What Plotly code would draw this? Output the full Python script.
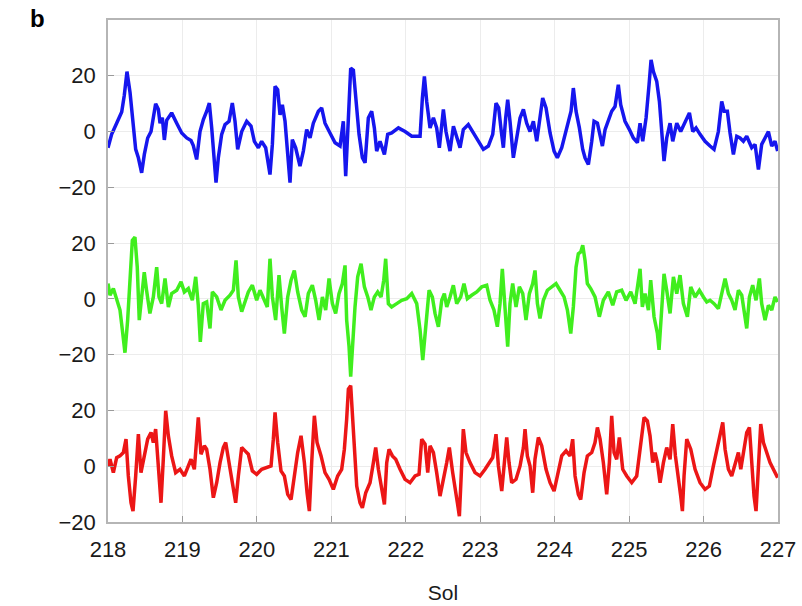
import plotly.graph_objects as go

# Three stacked residual traces over sols 218-227 (values in native units,
# each trace shifted vertically by its own offset so they share one axis).
blue_sol = [218.0, 218.049, 218.116, 218.184, 218.219, 218.255, 218.296, 218.34, 218.372, 218.408,
            218.452, 218.488, 218.533, 218.578, 218.609, 218.64, 218.676, 218.699, 218.73, 218.757,
            218.788, 218.855, 218.923, 218.99, 219.057, 219.115, 219.146, 219.191, 219.236, 219.281,
            219.326, 219.361, 219.393, 219.429, 219.451, 219.482, 219.527, 219.572, 219.626, 219.67,
            219.706, 219.742, 219.796, 219.863, 219.921, 219.966, 220.02, 220.064, 220.118, 220.176,
            220.208, 220.244, 220.279, 220.311, 220.342, 220.378, 220.414, 220.445, 220.476, 220.521,
            220.579, 220.624, 220.669, 220.714, 220.758, 220.826, 220.87, 220.915, 220.982, 221.05,
            221.117, 221.161, 221.193, 221.229, 221.26, 221.296, 221.327, 221.372, 221.417, 221.453,
            221.497, 221.542, 221.578, 221.609, 221.654, 221.713, 221.757, 221.811, 221.901, 221.99,
            222.08, 222.192, 222.223, 222.25, 222.281, 222.326, 222.371, 222.415, 222.451,
            222.505, 222.54, 222.594, 222.64, 222.684, 222.729, 222.773, 222.84, 222.908, 222.975,
            223.042, 223.109, 223.168, 223.212, 223.248, 223.28, 223.311, 223.342, 223.369, 223.4,
            223.445, 223.49, 223.535, 223.58, 223.624, 223.669, 223.714, 223.759, 223.803, 223.839,
            223.884, 223.938, 223.992, 224.036, 224.095, 224.162, 224.22, 224.251, 224.287, 224.332,
            224.377, 224.408, 224.453, 224.498, 224.529, 224.574, 224.61, 224.641, 224.677, 224.721,
            224.766, 224.811, 224.855, 224.887, 224.945, 225.004, 225.057, 225.111, 225.147, 225.183,
            225.228, 225.268, 225.295, 225.326, 225.371, 225.407, 225.438, 225.469, 225.505, 225.55,
            225.586, 225.64, 225.693, 225.751, 225.81, 225.855, 225.899, 225.953, 226.02, 226.087,
            226.141, 226.199, 226.244, 226.276, 226.32, 226.356, 226.401, 226.446, 226.49, 226.535,
            226.58, 226.647, 226.692, 226.737, 226.781, 226.826, 226.871, 226.916, 226.96, 226.995]
blue_val = [-5.8, -1.0, 3.0, 7.0, 13.0, 21.5, 14.0, 1.0, -6.4, -9.4,
            -14.8, -8.2, -2.3, 0.0, 5.0, 10.0, 8.0, 3.0, 5.0, -3.0,
            4.0, 6.7, 3.0, -0.5, -2.3, -3.2, -5.0, -10.0, 0.0, 4.3,
            7.3, 10.2, 1.3, -9.4, -18.3, -9.4, -1.0, 2.5, 3.7, 10.2,
            3.7, -6.4, 0.0, 3.7, 2.0, -3.5, -5.8, -3.5, -5.8, -15.4,
            -4.6, 16.2, 15.0, 6.0, 9.6, 3.7, -7.0, -18.3, -2.9, -5.8,
            -12.4, -7.0, 0.7, -2.3, 3.0, 7.3, 8.5, 3.0, -0.5, -4.0,
            -5.2, 3.7, -16.0, 4.9, 22.7, 22.0, 13.2, -1.0, -9.4, -11.2,
            4.9, 7.3, 1.3, -7.0, -3.5, -8.2, -1.0, -0.5, 1.3, 0.0,
            -1.7, -1.7, 12.0, 19.8, 10.8, 1.3, 4.9, 1.3, -5.8,
            7.9, 0.0, -7.0, 1.9, -2.3, -5.8, 0.7, 2.5, -0.5, -3.5,
            -6.4, -5.2, -1.0, 10.2, 8.5, 0.7, -5.8, 4.9, 11.4, 3.7,
            -9.4, -2.3, 4.9, 7.9, 3.0, 0.0, 3.7, -3.5, 6.0, 12.0,
            8.5, -0.5, -7.0, -9.4, -5.8, 1.3, 7.3, 15.6, 7.3, 1.3,
            -6.4, -9.4, -11.8, -3.5, 3.7, 3.0, -2.3, -5.2, 0.7, 3.7,
            7.3, 9.0, 16.8, 9.6, 3.7, 0.7, -2.3, -4.0, 3.0, -3.5,
            4.9, 16.8, 25.7, 21.5, 18.0, 10.8, -2.3, -10.6, -2.3, 3.0,
            -3.5, 3.0, 0.0, 3.7, 6.7, 0.0, 1.3, -1.0, -3.5, -5.2,
            -6.4, 0.0, 10.8, 7.3, 7.3, -0.5, -8.2, -1.7, -2.3, -3.5,
            -1.7, -5.8, -4.6, -13.6, -4.6, -2.3, 0.0, -5.2, -3.5, -7.0]

green_sol = [218.0, 218.027, 218.072, 218.116, 218.161, 218.193, 218.228, 218.264, 218.296, 218.327,
             218.362, 218.393, 218.42, 218.452, 218.487, 218.518, 218.563, 218.609, 218.654, 218.685,
             218.721, 218.766, 218.811, 218.855, 218.923, 218.981, 219.026, 219.079, 219.133, 219.178,
             219.213, 219.24, 219.28, 219.325, 219.37, 219.402, 219.46, 219.518, 219.572, 219.639,
             219.684, 219.72, 219.751, 219.796, 219.841, 219.885, 219.939, 219.997, 220.042, 220.096,
             220.14, 220.176, 220.208, 220.252, 220.297, 220.333, 220.369, 220.414, 220.459, 220.503,
             220.548, 220.602, 220.647, 220.691, 220.745, 220.79, 220.835, 220.88, 220.924, 220.969,
             221.014, 221.058, 221.103, 221.148, 221.184, 221.206, 221.238, 221.26, 221.282, 221.318,
             221.354, 221.399, 221.444, 221.489, 221.533, 221.578, 221.623, 221.668, 221.704, 221.73,
             221.766, 221.81, 221.878, 221.945, 222.013, 222.08, 222.147, 222.192, 222.228, 222.268,
             222.313, 222.357, 222.393, 222.438, 222.483, 222.518,
             222.55, 222.594, 222.639, 222.684, 222.738, 222.782, 222.827, 222.885, 222.953, 223.02,
             223.087, 223.132, 223.185, 223.23, 223.266, 223.297, 223.333, 223.369, 223.4, 223.436,
             223.481, 223.526, 223.571, 223.615, 223.66, 223.705, 223.736, 223.768, 223.803, 223.848,
             223.902, 223.96, 224.018, 224.072, 224.126, 224.171, 224.216, 224.251, 224.287, 224.318,
             224.35, 224.377, 224.408, 224.439, 224.484, 224.542, 224.6, 224.654, 224.721, 224.78,
             224.833, 224.9, 224.959, 225.022, 225.08, 225.125, 225.147, 225.178, 225.214, 225.259,
             225.29, 225.335, 225.38, 225.402, 225.429, 225.469, 225.505, 225.55, 225.595, 225.64,
             225.684, 225.729, 225.783, 225.828, 225.886, 225.944, 225.998, 226.043, 226.087, 226.141,
             226.199, 226.244, 226.289, 226.334, 226.378, 226.423, 226.468, 226.513, 226.558, 226.58,
             226.616, 226.66, 226.705, 226.75, 226.781, 226.826, 226.871, 226.916, 226.96, 226.995]
green_val = [5.5, 1.3, 3.7, -0.5, -4.0, -11.2, -19.3, -7.6, 10.2, 21.0,
             22.1, 11.4, -7.6, 0.7, 9.6, 3.1, -5.2, 0.7, 11.4, 0.7,
             -1.7, 7.3, -2.9, 1.9, 3.1, 6.1, 2.5, 3.7, -0.5, 7.9,
             -2.3, -15.4, -1.7, -1.1, -10.6, 2.5, 0.7, -4.0, -0.5, 1.3,
             3.1, 13.8, 0.7, -4.6, -1.1, 2.5, 4.9, -0.5, 3.1, 0.1,
             -2.9, 14.4, 0.7, -7.6, 8.5, -2.9, -12.4, 0.7, 6.7, 10.2,
             2.5, -4.0, -6.4, 1.9, 4.9, -0.5, -7.6, 0.7, -4.0, 7.3,
             -1.7, -5.2, 1.9, 5.5, 12.0, -7.6, -17.1, -27.9, -17.1, -2.9,
             7.9, 12.6, 4.3, 0.7, -4.0, 0.7, 2.5, 0.7, 6.7, 14.4,
             -1.7, -2.9, -1.7, -0.5, 0.1, 1.9, -1.7, -11.2, -21.9, -8.8,
             3.1, 0.7, -5.2, -10.0, -0.5, 1.9,
             -2.9, 0.7, 4.9, -1.7, 0.7, 5.5, 0.1, 1.3, 2.5, 4.3,
             4.9, -0.5, -4.0, -10.0, -1.7, 10.8, -4.0, -17.1, -1.7, 5.5,
             -2.9, 4.3, 1.9, -7.6, 1.9, 5.5, 10.2, -1.7, -7.0, -0.5,
             3.1, 4.3, 5.5, 3.1, 0.7, -4.0, -12.4, -2.9, 11.4, 16.2,
             16.8, 19.2, 13.8, 5.5, 3.7, 0.7, -6.4, -0.5, 2.5, -2.3,
             2.5, 3.1, -0.5, 2.5, -1.7, 6.7, 10.8, -2.9, 1.9, -4.0,
             6.7, -6.4, -12.4, -18.3, -5.2, 9.0, 3.1, -5.2, 7.9, 1.9,
             8.5, -1.7, -6.4, 4.3, 0.7, 3.1, 0.7, -1.1, -0.5, -1.7,
             -3.5, 2.5, 7.3, 1.9, -0.5, -4.0, 3.1, 1.3, -7.6, -10.6,
             0.7, 4.9, -0.5, 7.3, -1.7, -7.6, -2.3, -4.0, 0.7, -1.1]

red_sol = [218.0, 218.027, 218.072, 218.116, 218.161, 218.206, 218.242, 218.273, 218.309, 218.336,
           218.372, 218.408, 218.443, 218.488, 218.533, 218.578, 218.609, 218.64, 218.676, 218.712,
           218.743, 218.775, 218.811, 218.855, 218.909, 218.967, 219.026, 219.079, 219.115, 219.16,
           219.191, 219.213, 219.249, 219.294, 219.325, 219.37, 219.415, 219.46, 219.505, 219.549,
           219.581, 219.626, 219.67, 219.715, 219.751, 219.796, 219.841, 219.885, 219.939, 219.997,
           220.064, 220.131, 220.19, 220.221, 220.244, 220.279, 220.324, 220.369, 220.414, 220.459,
           220.503, 220.548, 220.593, 220.638, 220.674, 220.705, 220.736, 220.772, 220.808, 220.862,
           220.915, 220.969, 221.027, 221.085, 221.139, 221.175, 221.206, 221.229, 221.26, 221.282,
           221.309, 221.341, 221.385, 221.417, 221.462, 221.52, 221.565, 221.596, 221.632, 221.668,
           221.713, 221.744, 221.775, 221.82, 221.865, 221.923, 221.99, 222.057, 222.125, 222.178,
           222.214, 222.259, 222.295, 222.326, 222.371, 222.415, 222.46,
           222.55, 222.585, 222.63, 222.662, 222.693, 222.72, 222.742, 222.773, 222.809, 222.863,
           222.93, 222.997, 223.065, 223.123, 223.168, 223.212, 223.244, 223.289, 223.324, 223.356,
           223.387, 223.423, 223.481, 223.535, 223.58, 223.602, 223.633, 223.669, 223.705, 223.736,
           223.781, 223.826, 223.884, 223.938, 223.992, 224.05, 224.095, 224.153, 224.206, 224.242,
           224.274, 224.318, 224.35, 224.395, 224.439, 224.498, 224.542, 224.574, 224.61, 224.654,
           224.699, 224.735, 224.766, 224.798, 224.833, 224.869, 224.914, 224.968, 225.035, 225.102,
           225.138, 225.169, 225.201, 225.245, 225.281, 225.317, 225.349, 225.38, 225.416, 225.461,
           225.505, 225.55, 225.586, 225.622, 225.662, 225.693, 225.716, 225.738, 225.774, 225.828,
           225.886, 225.953, 226.02, 226.078, 226.132, 226.186, 226.222, 226.258, 226.289, 226.334,
           226.378, 226.423, 226.468, 226.5, 226.544, 226.58, 226.616, 226.647, 226.678, 226.705,
           226.737, 226.768, 226.804, 226.848, 226.893, 226.938, 226.995]
red_val = [0.1, 2.5, -2.3, 3.1, 3.7, 4.9, 9.7, -3.5, -13.1, -16.1,
           -3.5, 11.5, -2.3, 3.7, 9.7, 12.1, 8.5, 13.3, 1.3, -13.1,
           2.5, 19.9, 10.9, 3.7, -2.3, -1.1, -3.5, 0.1, 2.5, -1.1,
           8.5, 17.5, 4.3, 7.3, 6.1, -1.1, -11.3, -5.9, 1.3, 6.7,
           8.5, 1.3, -7.1, -13.1, -3.5, 6.7, 5.5, 4.3, -1.7, -2.9,
           -1.1, -0.5, 0.1, 9.7, 19.3, 8.5, -1.7, -3.5, -10.1, -11.9,
           -3.5, 4.9, 10.9, 1.3, -9.5, -16.1, 1.3, 18.1, 8.5, 3.7,
           -2.3, -4.7, -8.3, -3.5, -1.1, 6.1, 16.9, 27.7, 28.9, 18.1,
           6.1, -7.1, -13.1, -14.9, -9.5, -5.9, 1.3, 6.7, -1.1, -7.1,
           -13.7, 1.3, 6.1, 3.7, 2.5, -1.1, -4.7, -5.9, -3.5, -2.9,
           9.7, 7.9, -2.3, 7.3, 4.9, -2.3, -10.7,
           1.3, 6.7, -2.3, -7.1, -13.1, -17.9, -3.5, 13.3, 4.9, 1.3,
           -2.3, -3.5, -1.1, 1.3, 3.1, 11.5, 0.1, -8.9, 1.3, 10.3,
           1.3, -5.9, -4.7, 0.1, 6.7, 13.3, 3.7, 0.1, -9.5, 2.5,
           10.3, 7.3, -1.1, -5.9, -8.9, -2.3, 3.7, 5.5, 3.7, 9.7,
           -3.5, -10.1, -11.9, -2.3, 3.7, 4.9, 8.5, 13.9, 9.7, 1.3,
           -10.1, 1.3, 18.1, 4.9, 2.5, 10.3, -1.1, -3.5, -5.9, -3.5,
           4.9, 9.7, 17.5, 16.3, 10.9, 1.3, 4.9, 1.3, -5.9, 1.3,
           6.7, 2.5, 15.1, 3.7, -3.5, -10.7, -16.1, -3.5, 9.7, 6.1,
           -1.1, -5.9, -8.3, -7.1, 0.1, 7.3, 12.1, 15.7, 6.1, -1.1,
           -3.5, 1.3, 4.9, -1.1, 6.1, 12.1, 13.9, 2.5, -10.7, -16.1,
           -1.1, 15.1, 8.5, 4.9, 1.3, -1.1, -4.1]

# Vertical offsets used to stack the three traces on one axis
offsets = {"red": 0, "green": 60, "blue": 120}

tick_vals = [-20, 0, 20, 40, 60, 80, 100, 120, 140]
tick_text = ["\u221220", "0", "20", "\u221220", "0", "20", "\u221220", "0", "20"]
x_ticks = list(range(218, 228))

fig = go.Figure()
series = [
    ("red", red_sol, red_val, "rgb(236,22,22)"),
    ("green", green_sol, green_val, "rgb(64,238,30)"),
    ("blue", blue_sol, blue_val, "rgb(22,22,238)"),
]
for name, xs, ys, color in series:
    off = offsets[name]
    fig.add_trace(go.Scatter(
        x=xs, y=[v + off for v in ys], mode="lines",
        line=dict(color=color, width=3.5), showlegend=False, hoverinfo="skip",
    ))

font_family = "Liberation Sans, Arial, sans-serif"
plot_w = 802 - 108 - 24
plot_h = 606 - 20 - 84
fig.update_layout(
    width=802, height=606,
    margin=dict(l=108, r=24, t=20, b=84),
    paper_bgcolor="white", plot_bgcolor="white",
    font=dict(family=font_family, size=22, color="#1a1a1a"),
    xaxis=dict(
        range=[218, 227], tickvals=x_ticks, ticks="inside", ticklen=6,
        tickcolor="#9a9a9a", showgrid=True, gridcolor="#ececec", gridwidth=1,
        showline=True, linecolor="#b5b5b5", linewidth=1.5, mirror=True,
        zeroline=False, ticklabelstandoff=7, automargin=False,
        title=dict(text="Sol", font=dict(size=21), standoff=24),
    ),
    yaxis=dict(
        range=[-20, 160], tickvals=tick_vals, ticktext=tick_text,
        ticks="inside", ticklen=6, tickcolor="#9a9a9a",
        showgrid=True, gridcolor="#ececec", gridwidth=1,
        showline=True, linecolor="#b5b5b5", linewidth=1.5, mirror=True,
        zeroline=False, ticklabelstandoff=6, automargin=False,
    ),
    annotations=[dict(
        text="<b>b</b>", xref="paper", yref="paper",
        x=(37 - 108) / plot_w, y=1 + (20 - 18) / plot_h,
        xanchor="center", yanchor="middle", showarrow=False,
        font=dict(size=24, family=font_family, color="black"),
    )],
)

fig.write_html("out.html")
